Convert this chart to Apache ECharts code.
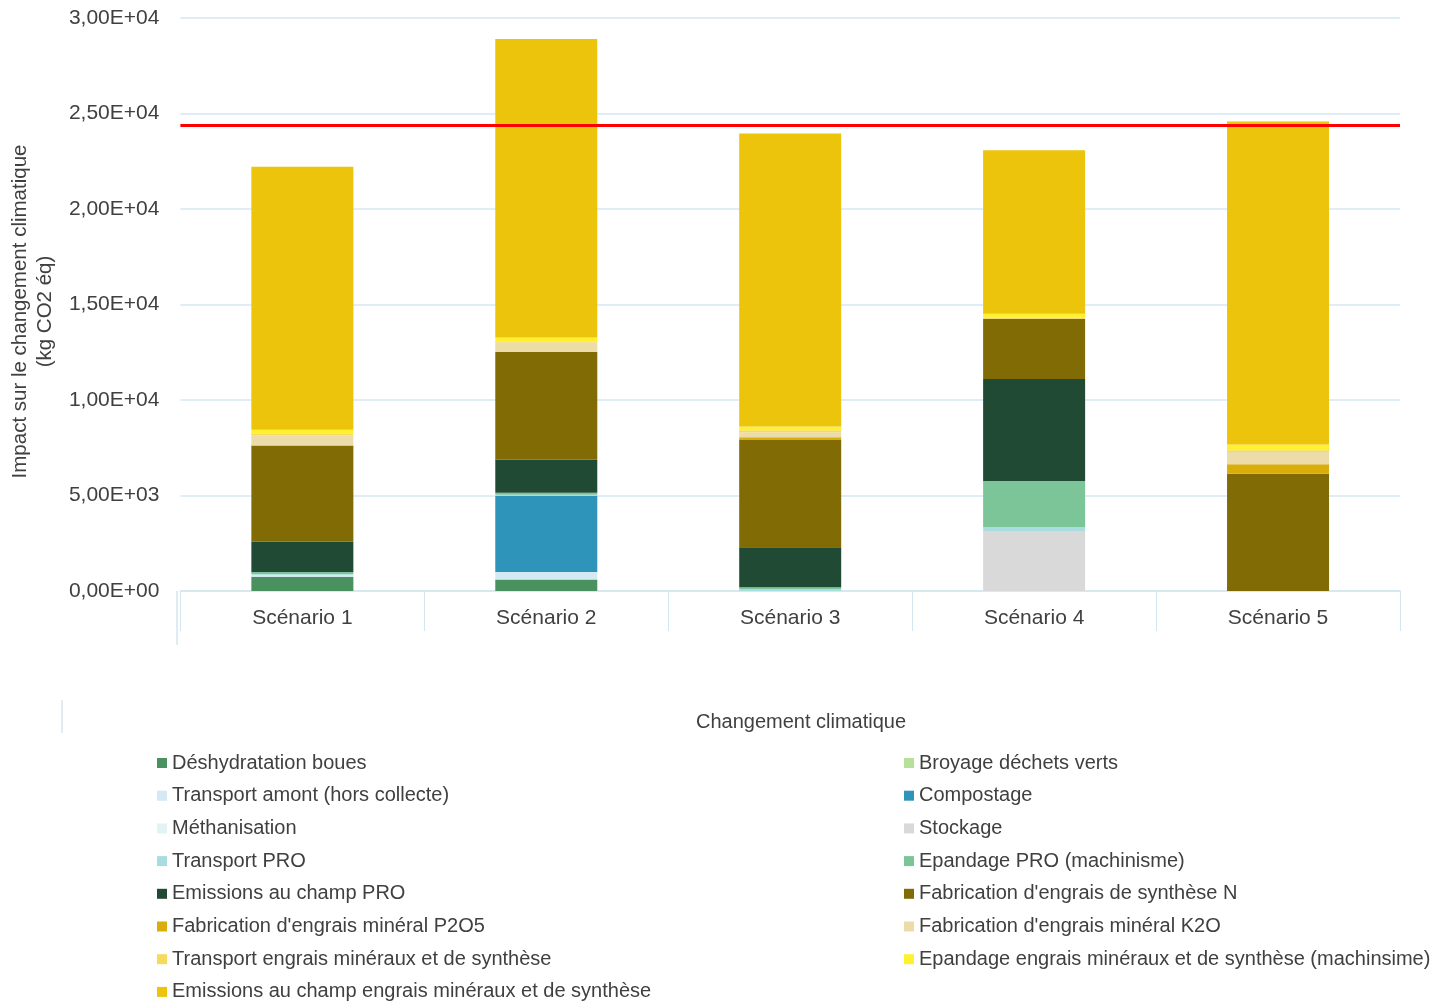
<!DOCTYPE html>
<html><head><meta charset="utf-8">
<script src="https://cdn.jsdelivr.net/npm/echarts@6/dist/echarts.min.js"></script>
<style>html,body{margin:0;padding:0;background:#fff}#c{width:1443px;height:1001px}</style>
</head><body><div id="c"></div>
<script>
const categories = ['Scénario 1', 'Scénario 2', 'Scénario 3', 'Scénario 4', 'Scénario 5'];
const deshydratation   = [750, 600, 0, 0, 0];
const broyage          = [0, 0, 0, 0, 0];
const transportAmont   = [100, 400, 0, 0, 0];
const compostage       = [0, 3980, 0, 0, 0];
const methanisation    = [0, 0, 0, 0, 0];
const stockage         = [0, 0, 0, 3140, 0];
const transportPRO     = [40, 60, 100, 210, 0];
const epandagePRO      = [100, 100, 100, 2410, 0];
const emissionsPRO     = [1600, 1745, 2090, 5340, 0];
const fabN             = [5030, 5640, 5620, 3160, 6140];
const fabP2O5          = [0, 0, 140, 0, 490];
const fabK2O           = [520, 490, 260, 0, 645];
const transportEngrais = [100, 60, 100, 60, 100];
const epandageEngrais  = [200, 200, 200, 200, 300];
const emissionsEngrais = [13770, 15620, 15340, 8550, 16910];
const threshold = 24400;
const yTicks = [0, 5000, 10000, 15000, 20000, 25000, 30000];

const seriesDefs = [
  ['Déshydratation boues', deshydratation, '#4a9160'],
  ['Broyage déchets verts', broyage, '#b7e09a'],
  ['Transport amont (hors collecte)', transportAmont, '#d3e9f4'],
  ['Compostage', compostage, '#2f94ba'],
  ['Méthanisation', methanisation, '#e2f3f3'],
  ['Stockage', stockage, '#d9d9d9'],
  ['Transport PRO', transportPRO, '#a9dcdf'],
  ['Epandage PRO (machinisme)', epandagePRO, '#7bc598'],
  ['Emissions au champ PRO', emissionsPRO, '#214a34'],
  ["Fabrication d'engrais de synthèse N", fabN, '#816b05'],
  ["Fabrication d'engrais minéral P2O5", fabP2O5, '#d9ad0a'],
  ["Fabrication d'engrais minéral K2O", fabK2O, '#ebdca9'],
  ['Transport engrais minéraux et de synthèse', transportEngrais, '#f6da5c'],
  ['Epandage engrais minéraux et de synthèse (machinsime)', epandageEngrais, '#fff12f'],
  ['Emissions au champ engrais minéraux et de synthèse', emissionsEngrais, '#ebc40b']
];

const series = seriesDefs.map(([name, data, color], i) => ({
  name, type: 'bar', stack: 'total', data, barWidth: 102,
  itemStyle: { color },
  emphasis: { disabled: true }
}));
series[series.length - 1].markLine = {
  silent: true, symbol: ['none', 'none'], label: { show: false },
  lineStyle: { color: '#ff0000', width: 3, type: 'solid' },
  data: [{ yAxis: threshold }]
};

const names = seriesDefs.map(d => d[0]);
const leftNames = names.filter((_, i) => i % 2 === 0);
const rightNames = names.filter((_, i) => i % 2 === 1);

function fmt(v) {
  const s = Number(v).toExponential(2);
  const [m, e] = s.split('e');
  const sign = e[0] === '-' ? '-' : '+';
  const ex = e.replace(/[+-]/, '').padStart(2, '0');
  return m.replace('.', ',') + 'E' + sign + ex;
}

const txt = '#404040';
const font = 'Liberation Sans';
const legendCommon = {
  orient: 'vertical', icon: 'rect', itemWidth: 10, itemHeight: 10, itemGap: 12.7,
  height: 280,
  textStyle: { fontSize: 20, color: txt, fontFamily: font },
  selectedMode: false
};

const chart = echarts.init(document.getElementById('c'), null, { renderer: 'canvas' });
chart.setOption({
  animation: false,
  textStyle: { fontFamily: font },
  title: {
    text: 'Changement climatique', left: 796, top: 707, textAlign: 'center',
    textStyle: { fontSize: 20, fontWeight: 'normal', color: txt, fontFamily: font }
  },
  legend: [
    Object.assign({ left: 152, top: 748, data: leftNames }, legendCommon),
    Object.assign({ left: 899, top: 748, data: rightNames }, legendCommon)
  ],
  grid: { left: 179, right: 43, top: 18, bottom: 410, containLabel: false },
  xAxis: {
    type: 'category', data: categories,
    axisLine: { lineStyle: { color: '#d5e6f0', width: 1.5 } },
    axisTick: { show: true, length: 40, lineStyle: { color: '#d5e6f0' } },
    axisLabel: { fontSize: 21, color: txt, margin: 17, fontFamily: font }
  },
  yAxis: {
    type: 'value', min: 0, max: 30000, interval: 5000,
    name: 'Impact sur le changement climatique\n(kg CO2 éq)',
    nameLocation: 'middle', nameGap: 107,
    nameTextStyle: { fontSize: 20.5, color: txt, fontFamily: font, lineHeight: 25, padding: [0, 14, 0, 0] },
    axisLine: { show: false }, axisTick: { show: false },
    splitLine: { lineStyle: { color: '#d5e9f3', width: 1.5 } },
    axisLabel: { fontSize: 21, color: txt, margin: 21, fontFamily: font, formatter: v => yTicks.includes(v) ? fmt(v) : '' }
  },
  series,
  graphic: [
    { type: 'line', shape: { x1: 177, y1: 591, x2: 177, y2: 645 }, style: { stroke: '#d5e6f0', lineWidth: 1.5 } },
    { type: 'line', shape: { x1: 62, y1: 700, x2: 62, y2: 733 }, style: { stroke: '#d5e6f0', lineWidth: 1.5 } }
  ]
});
</script></body></html>
